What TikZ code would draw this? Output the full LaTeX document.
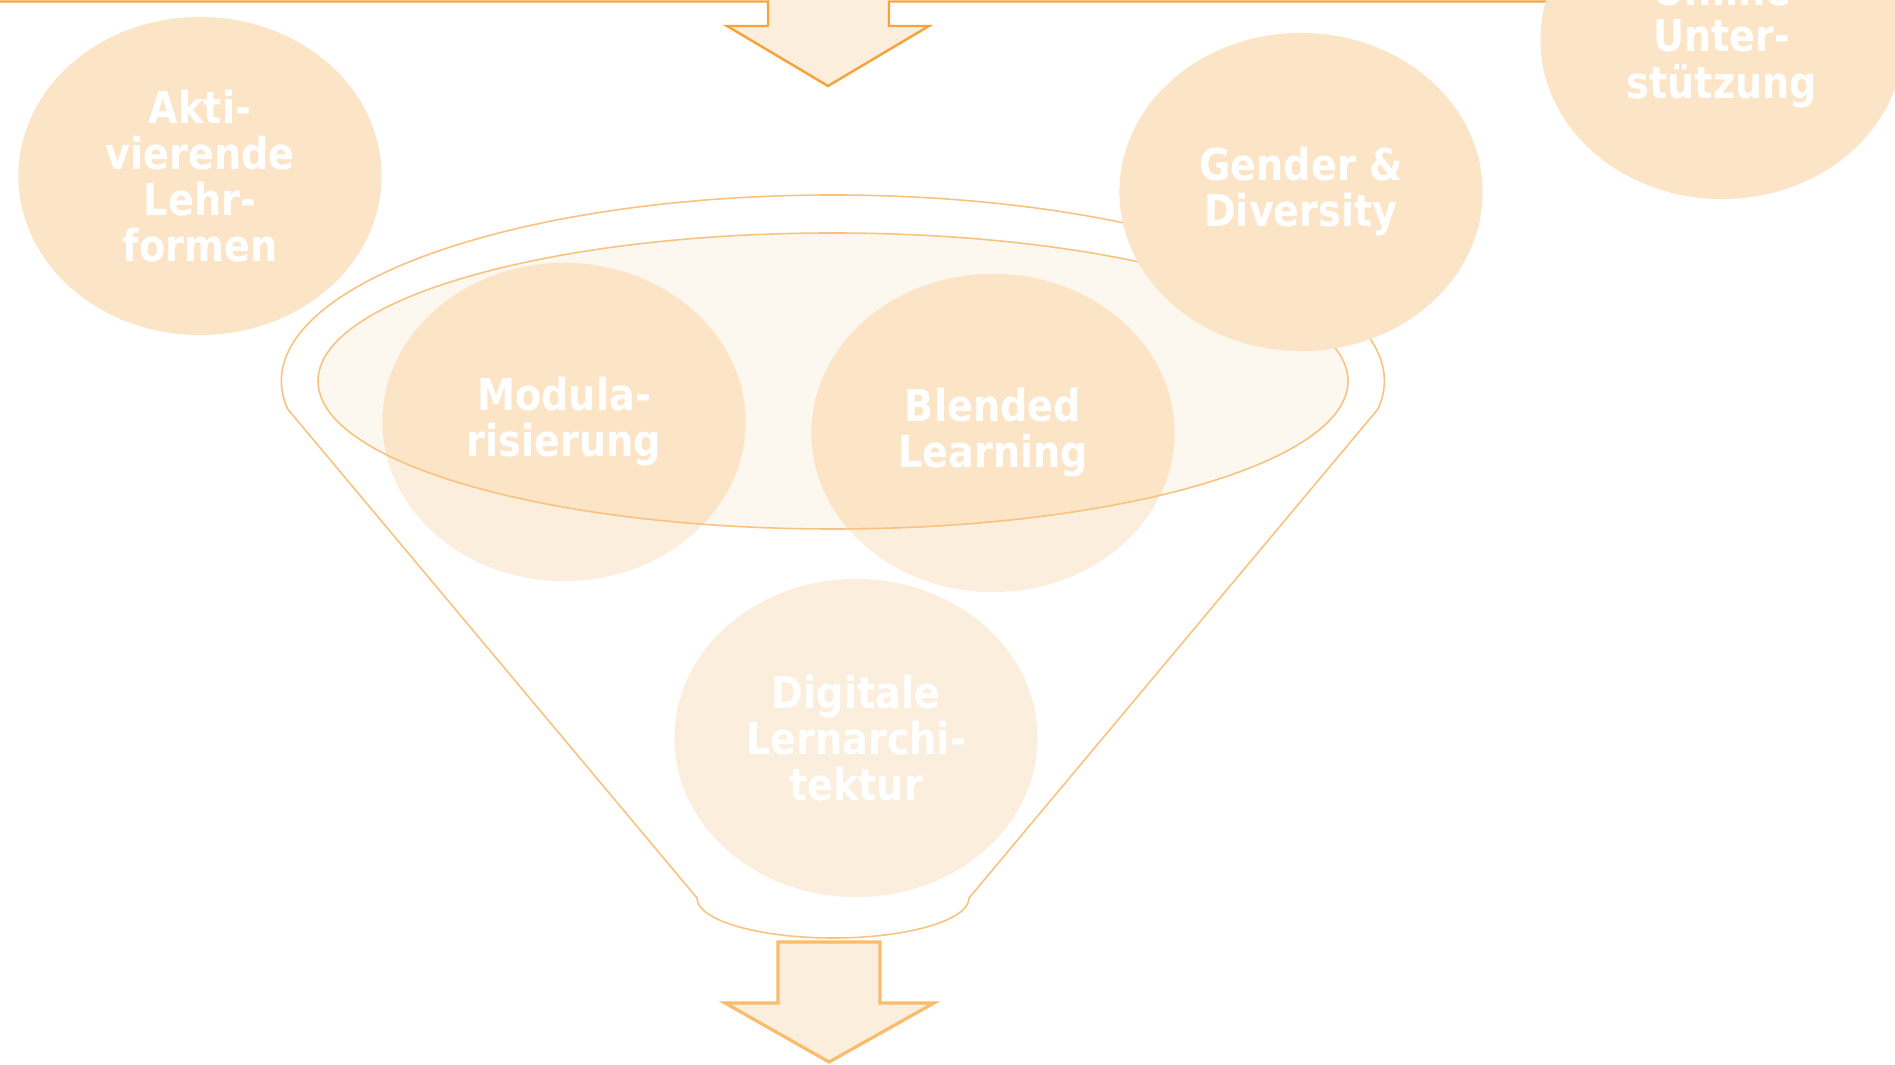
\documentclass[tikz,border=0pt]{standalone}
\usepackage{fontspec}
\newfontfamily\bubblefont[FakeStretch=0.87]{DejaVu Sans}
\usetikzlibrary{shapes.geometric}
\definecolor{peach}{HTML}{FCE4C6}
\definecolor{pale}{HTML}{FCEEDC}
\definecolor{cream}{HTML}{FDF8EF}
\definecolor{funnelline}{HTML}{F9C27E}
\definecolor{topline}{HTML}{F6A43A}
\definecolor{arrowline}{HTML}{FABB6B}

\begin{document}
\begin{tikzpicture}[
    x=0.01cm, y=0.01cm,
    bubble/.style={
      ellipse,
      fill=peach,
      minimum width=3.63cm,
      minimum height=3.18cm,
      inner sep=0pt
    },
    bubbletext/.style={
      text=white,
      align=center,
      inner sep=0pt,
      font=\bubblefont\bfseries\fontsize{12.5}{13.1}\selectfont
    },
    funnel/.style={draw=funnelline, line width=0.45pt}]

    \useasboundingbox (0,0) rectangle (1895,-1065);

    % top bar with arrow
    \fill[pale] (768,5) -- (768,-26) -- (727,-26) -- (828,-86) -- (929,-26) -- (889,-26) -- (889,5) -- cycle;
    \draw[topline, line width=0.7pt, line join=miter]
      (-10,-1.5) -- (768,-1.5) -- (768,-26) -- (727,-26) -- (828,-86)
      -- (929,-26) -- (889,-26) -- (889,-1.5) -- (1905,-1.5);

    % inner ellipse of the funnel
    \fill[cream] (833,-381) ellipse[x radius=515, y radius=148];

    % circles in the funnel
    \node[bubble, fill=pale] (mod) at (564,-422) {};
    \node[bubble, fill=pale] (bl) at (993,-433) {};
    \node[bubble, fill=pale] (dig) at (856,-738) {};
    \begin{scope}
      \clip (833,-381) ellipse[x radius=515, y radius=148];
      \fill[peach] (mod) ellipse[x radius=181.5, y radius=159];
      \fill[peach] (bl) ellipse[x radius=181.5, y radius=159];
    \end{scope}

    % funnel outline
    \draw[funnel] (833,-381) ellipse[x radius=515, y radius=148];
    \draw[funnel] (1378,-409)
      arc[start angle=-8.66, end angle=188.66, x radius=551.5, y radius=186]
      -- (697,-898)
      arc[start angle=180, end angle=360, x radius=136, y radius=40]
      -- cycle;

    % labels in the funnel
    \node[bubbletext] (mod-t) at (mod) {Modula-\\risierung};
    \node[bubbletext] (bl-t) at (bl) {Blended\\Learning};
    \node[bubbletext] (dig-t) at (dig) {Digitale\\Lernarchi-\\tektur};

    % circles outside
    \node[bubble] (akt) at (200,-176) {};
    \node[bubbletext] (akt-t) at (akt) {Akti-\\vierende\\Lehr-\\formen};
    \node[bubble] (gen) at (1301,-192) {};
    \node[bubbletext] (gen-t) at (gen) {Gender \&\\Diversity};
    \node[bubble] (onl) at (1722,-40) {};
    \node[bubbletext] (onl-t) at (onl) {Online\\Unter-\\stützung};

    % bottom arrow
    \draw[arrowline, fill=pale, line width=0.9pt, line join=miter]
      (778,-942) -- (880,-942) -- (880,-1003) -- (934,-1003) -- (829,-1062)
      -- (725,-1003) -- (778,-1003) -- cycle;
  \end{tikzpicture}
\end{document}
